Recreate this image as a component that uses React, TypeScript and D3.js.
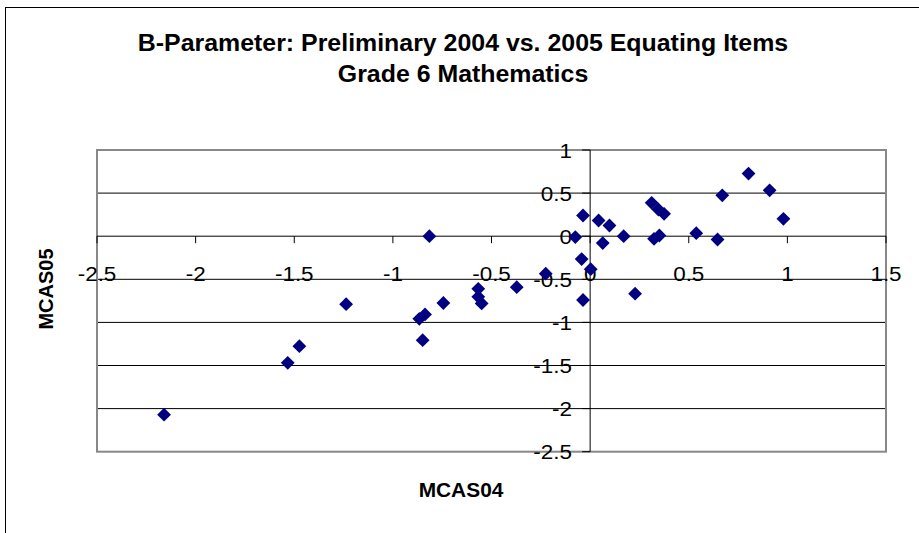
import React from "react";
import * as d3 from "d3";

const mcas04: number[] = [
  -2.16, -1.533, -1.474, -1.237, -0.815, -0.866, -0.837, -0.849, -0.744, -0.567,
  -0.567, -0.55, -0.372, -0.225, -0.075, -0.036, -0.043, 0.003, -0.036, 0.043,
  0.098, 0.064, 0.17, 0.228, 0.312, 0.346, 0.375, 0.324, 0.351, 0.538,
  0.646, 0.67, 0.803, 0.91, 0.98,
];
const mcas05: number[] = [
  -2.07, -1.469, -1.276, -0.789, 0, -0.958, -0.908, -1.206, -0.775, -0.61,
  -0.703, -0.78, -0.591, -0.435, -0.01, 0.24, -0.265, -0.383, -0.74, 0.182,
  0.124, -0.08, 0, -0.667, 0.387, 0.31, 0.26, -0.03, 0.008, 0.035,
  -0.038, 0.474, 0.726, 0.532, 0.202,
];
const xTicks: number[] = [-2.5, -2, -1.5, -1, -0.5, 0, 0.5, 1, 1.5];
const yTicks: number[] = [1, 0.5, 0, -0.5, -1, -1.5, -2, -2.5];
const titleLines: string[] = [
  "B-Parameter: Preliminary 2004 vs. 2005 Equating Items",
  "Grade 6 Mathematics",
];
const xTitle = "MCAS04";
const yTitle = "MCAS05";

const W = 919;
const H = 533;
const FONT = "'Liberation Sans', Arial, sans-serif";

export default function App() {
  const x = d3.scaleLinear().domain([-2.5, 1.5]).range([97, 886]);
  const y = d3.scaleLinear().domain([-2.5, 1]).range([451.7, 150]);
  const x0 = x(0);
  const y0 = y(0);
  const r = 6.9;
  const diamond = `M0,${-r}L${r},0L0,${r}L${-r},0Z`;
  const fmt = (v: number) => (v === 0 ? "0" : String(v));

  return (
    <svg
      width={W}
      height={H}
      style={{ position: "absolute", left: 0, top: 0, display: "block", background: "#fff" }}
      fontFamily={FONT}
    >
      <rect x={0} y={0} width={W} height={H} fill="#fff" />
      {/* outer chart frame */}
      <rect x={5.5} y={7.5} width={W + 20} height={H + 20} fill="none" stroke="#000" strokeWidth={1} />

      {/* titles */}
      {titleLines.map((t, i) => (
        <text
          key={t}
          transform={`translate(463,${51 + i * 31}) scale(1.06,1)`}
          textAnchor="middle"
          fontWeight="bold"
          fontSize={23.5}
          fill="#000"
        >
          {t}
        </text>
      ))}

      {/* plot area */}
      <rect x={x(-2.5)} y={y(1)} width={x(1.5) - x(-2.5)} height={y(-2.5) - y(1)} fill="#fff" />
      {/* gridlines */}
      {yTicks
        .filter((v) => v !== 0 && v !== 1 && v !== -2.5)
        .map((v) => (
          <line key={`g${v}`} x1={x(-2.5)} x2={x(1.5)} y1={y(v)} y2={y(v)} stroke="#000" strokeWidth={1} />
        ))}
      <rect
        x={x(-2.5)}
        y={y(1)}
        width={x(1.5) - x(-2.5)}
        height={y(-2.5) - y(1)}
        fill="none"
        stroke="#888"
        strokeWidth={2}
      />

      {/* x axis */}
      <line x1={x(-2.5)} x2={x(1.5)} y1={y0} y2={y0} stroke="#000" strokeWidth={1} />
      {xTicks.map((v) => (
        <g key={`xt${v}`}>
          <line x1={x(v)} x2={x(v)} y1={y0} y2={y0 + 7} stroke="#000" strokeWidth={1} />
          <text
            transform={`translate(${x(v)},280.5) scale(1.07,1)`}
            textAnchor="middle"
            fontSize={21}
            fill="#000"
          >
            {fmt(v)}
          </text>
        </g>
      ))}

      {/* y axis */}
      <line x1={x0} x2={x0} y1={y(1)} y2={y(-2.5)} stroke="#000" strokeWidth={1} />
      {yTicks.map((v) => (
        <g key={`yt${v}`}>
          <line x1={x0 - 8} x2={x0} y1={y(v)} y2={y(v)} stroke="#000" strokeWidth={1} />
          <text
            transform={`translate(572,${y(v) + 7.5}) scale(1.07,1)`}
            textAnchor="end"
            fontSize={21}
            fill="#000"
          >
            {fmt(v)}
          </text>
        </g>
      ))}

      {/* points */}
      {mcas04.map((v, i) => (
        <path key={`p${i}`} d={diamond} transform={`translate(${x(v)},${y(mcas05[i])})`} fill="#000080" />
      ))}

      {/* axis titles */}
      <text
        transform={`translate(461,497) scale(1.02,1)`}
        textAnchor="middle"
        fontWeight="bold"
        fontSize={20.5}
        fill="#000"
      >
        {xTitle}
      </text>
      <text
        transform={`translate(52.5,289) scale(1.05,1) rotate(-90)`}
        textAnchor="middle"
        fontWeight="bold"
        fontSize={20}
        fill="#000"
      >
        {yTitle}
      </text>
    </svg>
  );
}
